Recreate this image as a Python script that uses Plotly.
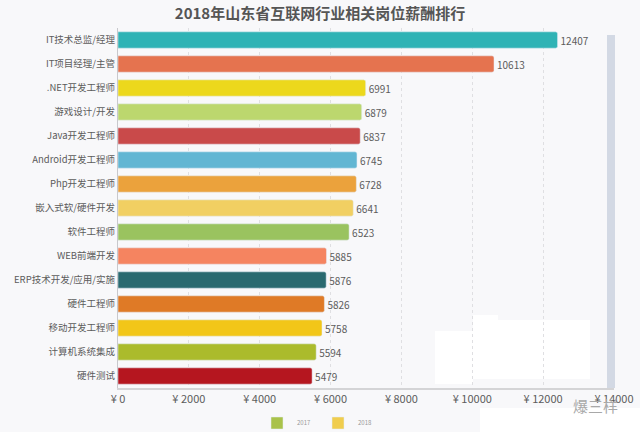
""" 2018 Shandong internet industry salary ranking, horizontal bars.

"""
import plotly.graph_objects as go

jobs = ["IT技术总监/经理", "IT项目经理/主管", ".NET开发工程师", "游戏设计/开发", "Java开发工程师",
        "Android开发工程师", "Php开发工程师", "嵌入式软/硬件开发", "软件工程师", "WEB前端开发",
        "ERP技术开发/应用/实施", "硬件工程师", "移动开发工程师", "计算机系统集成", "硬件测试"]
salary = [12407, 10613, 6991, 6879, 6837, 6745, 6728, 6641, 6523, 5885, 5876, 5826, 5758, 5594, 5479]
colors = ["#2fb3b5", "#e5734f", "#ecd81c", "#bcd76e", "#c94a4a", "#62b6d3", "#eba23c", "#f1cf62",
          "#9ac35f", "#f58460", "#2a6a70", "#df7a26", "#f2c618", "#abbb2c", "#b5161f"]
tick_vals = [0, 2000, 4000, 6000, 8000, 10000, 12000, 14000]
tick_text = ["¥ 0", "¥ 2000", "¥ 4000", "¥ 6000", "¥ 8000", "¥ 10000", "¥ 12000", "¥ 14000"]
legend_names = ["2017", "2018"]
legend_colors = ["#a9c24a", "#f0cd4e"]

FONT = "Noto Sans CJK SC"
GRAY = "#5c5c5c"
# plot area in picture pixels, used to place the decoration shapes
LEFT, RIGHT, TOP, BOTTOM = 118, 614, 28, 388


def px_x(x):
    return (x - LEFT) / (RIGHT - LEFT)


def px_y(y):
    return (BOTTOM - y) / (BOTTOM - TOP)


fig = go.Figure()
fig.add_trace(go.Bar(y=jobs, x=salary, orientation="h", showlegend=False, width=0.68,
                     marker=dict(color=colors, cornerradius=2),
                     text=salary, textposition="outside", cliponaxis=False,
                     textfont=dict(size=10, color=GRAY)))
for name, c in zip(legend_names, legend_colors):
    fig.add_trace(go.Bar(y=[None], x=[None], orientation="h", name=name, marker_color=c))

# scrollbar strip on the right and the pasted-over patches around the watermark
fig.add_shape(type="rect", xref="paper", yref="paper", x0=px_x(607), x1=px_x(615), y0=0, y1=px_y(35),
              fillcolor="#d3d9e4", line_width=0, layer="below")
for x0, x1, y0, y1 in [(435, 473, 331, 384), (473, 590, 320, 379), (473, 498, 315, 320), (480, 640, 408, 432)]:
    fig.add_shape(type="rect", xref="paper", yref="paper", layer="below", line_width=0, fillcolor="white",
                  x0=px_x(x0), x1=px_x(x1), y0=px_y(y1), y1=px_y(y0))

fig.add_annotation(text="爆三样", xref="paper", yref="paper", x=px_x(595), y=px_y(405), xanchor="center",
                   yanchor="middle", showarrow=False, font=dict(size=15, color="#a8a8a8", family=FONT))

fig.update_layout(
    width=640, height=432, autosize=False,
    margin=dict(l=LEFT, r=640 - RIGHT, t=TOP, b=432 - BOTTOM),
    paper_bgcolor="#f8f8fa", plot_bgcolor="#f8f8fa",
    barmode="overlay", bargap=0.32,
    font=dict(family=FONT, size=10, color=GRAY),
    title=dict(text="2018年山东省互联网行业相关岗位薪酬排行", x=0.5, xanchor="center", y=0.98, yanchor="top",
               pad=dict(t=0, b=0), font=dict(size=15, color="#555555", family=FONT, weight="bold")),
    legend=dict(orientation="h", xref="container", yref="container", x=318 / 640, xanchor="center",
                y=1 - 423 / 432, yanchor="middle",
                font=dict(size=6, color="#999999"), itemwidth=30, entrywidth=16, entrywidthmode="pixels",
                traceorder="normal", bgcolor="rgba(0,0,0,0)"),
    xaxis=dict(range=[0, 14000], tickvals=tick_vals, ticktext=tick_text, showgrid=True, automargin=False,
               gridcolor="#dfdfe2", griddash="dot", gridwidth=1, zeroline=False, ticks="", showline=True,
               linecolor="#d4d4d6", linewidth=2, tickfont=dict(size=11, color=GRAY)),
    yaxis=dict(categoryorder="array", categoryarray=jobs, autorange="reversed", showgrid=False, ticks="",
               automargin=False, showline=True, linecolor="#c8c8cc", linewidth=1, ticklabelstandoff=0,
               tickfont=dict(size=9.5, color=GRAY)),
)

# the page's default body margin would shift the figure by 8 px
fig.write_html("out.html", config={"displayModeBar": False},
               post_script="document.body.style.margin='0';document.body.style.overflow='hidden';")
